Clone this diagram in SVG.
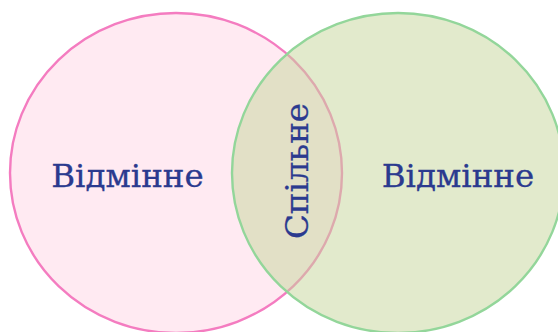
<svg xmlns="http://www.w3.org/2000/svg" width="558" height="332" viewBox="0 0 558 332">
<style>
.lbl{font-family:"DejaVu Serif","Liberation Serif",serif;font-size:32.5px;fill:#2b3a8f;stroke:#2b3a8f;stroke-width:0.3}
</style>
<rect width="558" height="332" fill="#ffffff"/>
<g id="left">
<ellipse cx="176" cy="173" rx="166" ry="160" fill="#ffeaf2" stroke="#f47cc0" stroke-width="2.4"/>
<text class="lbl" x="127.5" y="187" text-anchor="middle">Відмінне</text>
</g>
<g id="right">
<ellipse cx="398" cy="173" rx="166" ry="160" fill="rgb(197,213,153)" fill-opacity="0.5" stroke="#93d69a" stroke-width="2.4"/>
<text class="lbl" x="458" y="187" text-anchor="middle">Відмінне</text>
</g>
<g id="common">
<text class="lbl" transform="translate(308,171) rotate(-90)" text-anchor="middle">Спільне</text>
</g>
<g id="connectors"/>
</svg>
